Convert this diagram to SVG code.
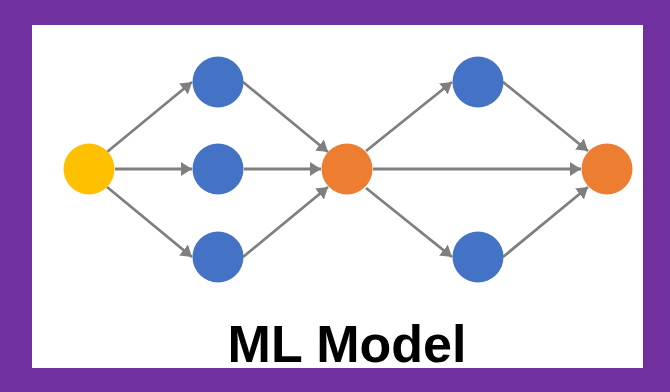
<svg xmlns="http://www.w3.org/2000/svg" width="670" height="392" viewBox="0 0 670 392">
  <style>
    .edge { stroke: #7F7F7F; stroke-width: 2.8; fill: none; marker-end: url(#arrow); }
    .input { fill: #FFC000; }
    .hidden { fill: #4472C4; }
    .merge { fill: #ED7D31; }
    .title { font-family: "Liberation Sans", Arial, sans-serif; font-weight: bold; font-size: 52px; fill: #000; }
  </style>
  <defs>
    <marker id="arrow" markerUnits="userSpaceOnUse" markerWidth="11" markerHeight="14" viewBox="0 0 11 14" refX="11" refY="7" orient="auto">
      <path d="M0,0 L11,7 L0,14 Z" fill="#7F7F7F"/>
    </marker>
  </defs>

  <!-- frame -->
  <rect x="0" y="0" width="670" height="392" fill="#7030A0"/>
  <rect x="32" y="25" width="611" height="343" fill="#FFFFFF"/>

  <!-- connectors -->
  <g id="edges">
    <line class="edge" x1="107" y1="152" x2="192" y2="82"/>
    <line class="edge" x1="115" y1="169" x2="192" y2="169"/>
    <line class="edge" x1="107" y1="187" x2="192" y2="257"/>
    <line class="edge" x1="243" y1="82" x2="328" y2="152"/>
    <line class="edge" x1="244" y1="169" x2="321" y2="169"/>
    <line class="edge" x1="243" y1="257" x2="328" y2="187"/>
    <line class="edge" x1="366" y1="151" x2="452" y2="82"/>
    <line class="edge" x1="373" y1="169" x2="581" y2="169"/>
    <line class="edge" x1="366" y1="188" x2="452" y2="257"/>
    <line class="edge" x1="503" y1="82" x2="588" y2="151"/>
    <line class="edge" x1="503" y1="257" x2="588" y2="187"/>
  </g>

  <!-- nodes -->
  <g id="input"><circle class="input" cx="89" cy="169" r="25.5"/></g>
  <g id="h1-top"><circle class="hidden" cx="218" cy="82" r="25.5"/></g>
  <g id="h1-mid"><circle class="hidden" cx="218" cy="169" r="25.5"/></g>
  <g id="h1-bot"><circle class="hidden" cx="218" cy="257" r="25.5"/></g>
  <g id="merge-1"><circle class="merge" cx="347" cy="169" r="25.5"/></g>
  <g id="h2-top"><circle class="hidden" cx="478" cy="82" r="25.5"/></g>
  <g id="h2-bot"><circle class="hidden" cx="478" cy="257" r="25.5"/></g>
  <g id="output"><circle class="merge" cx="607" cy="169" r="25.5"/></g>

  <g id="title"><text class="title" x="347" y="362" text-anchor="middle">ML Model</text></g>
</svg>
